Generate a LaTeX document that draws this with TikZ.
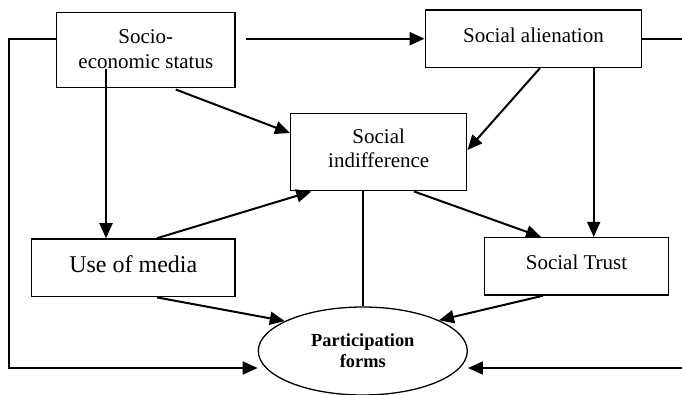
\documentclass[tikz,border=0pt]{standalone}
\usepackage{fontspec}
\setmainfont{Liberation Serif}
\usetikzlibrary{arrows.meta,shapes.geometric}
\begin{document}
\begin{tikzpicture}[x=1pt,y=-1pt,
  box/.style={draw, line width=1.5pt, inner sep=0pt, align=center,
    font=\fontsize{21}{25}\selectfont},
  onel/.style={text height=15.5pt, text depth=8.5pt},
  oval/.style={draw, ellipse, line width=1.3pt, inner sep=0pt, align=center,
    font=\fontsize{18.4}{21}\selectfont\bfseries},
  conn/.style={line width=2pt},
  arr/.style={conn, -{Triangle[length=15pt,width=13pt]}}
]
\useasboundingbox (0,0) rectangle (682,394);
% boxes
\node[box, minimum width=178.3pt, minimum height=75pt, text depth=2pt] (soc) at (145.8,49.8) {Socio-\\economic status};
\node[box, onel, minimum width=216.4pt, minimum height=57.3pt] (al) at (533.5,38.7) {Social alienation};
\node[box, minimum width=176pt, minimum height=77.4pt, text depth=7pt, font=\fontsize{21}{24}\selectfont] (ind) at (378.7,152) {Social\\indifference};
\node[box, minimum width=203.3pt, minimum height=57.7pt, text height=17.5pt, text depth=7.5pt, font=\fontsize{24}{28}\selectfont] (media) at (133.3,267.8) {Use of media};
\node[box, onel, minimum width=184.4pt, minimum height=57.3pt] (trust) at (576.5,266.3) {Social Trust};
\node[oval, minimum width=209pt, minimum height=88pt, text depth=0pt] (pf) at (362.8,351) {Participation\\forms};
% helper coordinates
\coordinate (lc) at (9,368);
\coordinate (rc) at (683.5,368);
% connectors
\draw[arr] ([xshift=10pt]soc.east |- al.west) -- (al.west);
\draw[arr] (soc.west |- al.west) -| (lc) -- (lc -| pf.west);
\draw[arr] (al.east) -| (rc) -- (rc -| pf.east);
\draw[arr] ([xshift=30pt,yshift=-1.5pt]soc.south) -- ([yshift=19pt]ind.west);
\draw[arr] ([xshift=-39.8pt,yshift=-19.2pt]soc.center) -- ([xshift=-27.3pt]media.north);
\draw[arr] ([xshift=23.7pt]media.north) -- ([xshift=21.3pt]ind.south west);
\draw[arr] ([xshift=6.5pt]al.south) -- ([yshift=2pt]ind.east);
\draw[arr] ([xshift=60.2pt]al.south) -- ([xshift=17.2pt]trust.north);
\draw[arr] ([xshift=35.3pt]ind.south) -- ([xshift=-35.5pt]trust.north);
\draw[conn] (pf.north |- ind.south) -- (pf.north);
\draw[arr] ([xshift=23.7pt]media.south) -- (pf.159);
\draw[arr] ([xshift=-33.5pt]trust.south) -- (pf.22);
\end{tikzpicture}
\end{document}
